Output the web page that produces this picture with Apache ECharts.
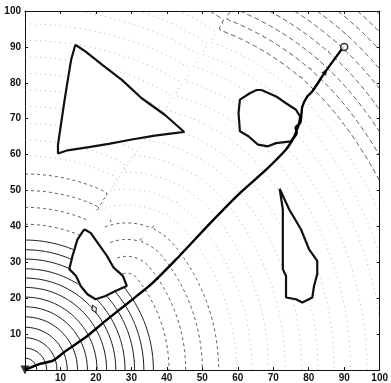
<!DOCTYPE html>
<html>
<head>
<meta charset="utf-8">
<script src="https://cdn.jsdelivr.net/npm/echarts@6/dist/echarts.min.js"></script>
<style>
  html, body { margin: 0; padding: 0; background: #fff; }
  #main { width: 391px; height: 383px; }
</style>
</head>
<body>
<div id="main"></div>
<script>
// contour levels (distance from the start point)
const levels = [3.3, 6.1, 9, 11.9, 14.8, 17.6, 20.3, 23, 25.6, 28.2, 30.9, 33.5, 36.2,
  40.6, 45.3, 50, 54.6, 59.6, 64, 68.7, 73.4, 78, 82.6, 87.2, 91.8, 96.4, 101, 105,
  109, 113, 116.5, 120, 123.5, 127, 130.5, 134, 137.5, 141];

// obstacle outlines
const obsTriangle = [[14.2, 90.6], [17.1, 88.7], [21.8, 85], [27.3, 80.8], [32.9, 75.7],
  [39.4, 71.1], [44.9, 66.3], [42.1, 66], [36.6, 65.3], [30.1, 64.2], [23.6, 63],
  [18, 62.1], [12, 61.2], [9.3, 60.3], [9.3, 62.8], [10.2, 68.8], [11.1, 74.8],
  [12, 80.4], [13, 86.4]];
const obsBlob = [[66.7, 78], [70.8, 76.2], [73.6, 74.3], [76.4, 72.5], [77.6, 70.6],
  [77.1, 67.9], [75.9, 65.1], [75, 63.7], [70.8, 63.2], [68.5, 62.3], [65.7, 62.8],
  [63, 65.1], [60.6, 66.5], [60.2, 71.6], [60.6, 75.3], [63.4, 77.1], [65.3, 78]];
const obsLower = [[16.7, 39.2], [18.5, 38.2], [20.8, 35], [23.1, 31.8], [25, 28.5],
  [27.6, 26.2], [28.7, 23.4], [25.5, 22], [22.7, 20.6], [19.9, 19.7], [17.6, 21.1],
  [15.7, 23.4], [14.4, 26.2], [12.5, 28.1], [13.4, 31.8], [14.8, 36.4]];
const obsSpike = [[71.8, 50.5], [74.5, 44.7], [77.8, 39.2], [80.1, 33.6], [82.4, 30.4],
  [82.4, 26.7], [81.5, 23.4], [81, 20.2], [78.2, 18.8], [76.4, 19.7], [73.6, 20.2],
  [73.6, 26.2], [72.7, 28.1], [72.7, 44.7]];

// planned path from start (0,0) to goal (90,90)
const pathPoints = [[0, 0], [4.2, 1.7], [7.9, 2.6], [11.6, 5.4], [17.1, 9.1], [22.7, 13.7],
  [29.2, 18.8], [35.6, 23.9], [42.6, 30.8], [52.3, 41], [60.6, 49.3], [68, 55.8],
  [73.6, 61.4], [75.5, 64.2], [76.6, 66], [76.3, 67.6], [77.6, 68.8], [77.9, 70.8],
  [78.2, 73.4], [79.6, 76.2], [81, 77.6], [84.7, 83.1], [89.8, 90]];
const startPoint = [[0, 0]];
const goalPoint = [[90, 90]];
const arrowPoint = [[84.7, 83.1]];
const markPoint = [[19.5, 17]];

const obstacles = [obsTriangle, obsBlob, obsLower, obsSpike];
// only the obstacle near the start bends the wavefront visibly
const shadowing = [obsLower];

// ---- distance field ----
const edges = [];
shadowing.forEach(p => p.forEach((a, i) => edges.push([a, p[(i + 1) % p.length]])));

function cross(o, a, b) { return (a[0] - o[0]) * (b[1] - o[1]) - (a[1] - o[1]) * (b[0] - o[0]); }
function segHit(p, q, a, b) {
  const d1 = cross(p, q, a), d2 = cross(p, q, b), d3 = cross(a, b, p), d4 = cross(a, b, q);
  return ((d1 > 0 && d2 < 0) || (d1 < 0 && d2 > 0)) && ((d3 > 0 && d4 < 0) || (d3 < 0 && d4 > 0));
}
function inside(pt, poly) {
  let c = false;
  for (let i = 0, j = poly.length - 1; i < poly.length; j = i++) {
    const a = poly[i], b = poly[j];
    if ((a[1] > pt[1]) !== (b[1] > pt[1]) &&
        pt[0] < (b[0] - a[0]) * (pt[1] - a[1]) / (b[1] - a[1]) + a[0]) c = !c;
  }
  return c;
}
function visible(p, q) {
  for (const e of edges) if (segHit(p, q, e[0], e[1])) return false;
  const m = [(p[0] + q[0]) / 2, (p[1] + q[1]) / 2];
  for (const poly of shadowing) if (inside(m, poly)) return false;
  return true;
}
const dist = (a, b) => Math.hypot(a[0] - b[0], a[1] - b[1]);

const nodes = [startPoint[0]].concat(...shadowing);
const nd = nodes.map((_, i) => i === 0 ? 0 : Infinity);
const done = nodes.map(() => false);
for (let k = 0; k < nodes.length; k++) {
  let u = -1;
  nd.forEach((d, i) => { if (!done[i] && (u < 0 || d < nd[u])) u = i; });
  if (u < 0 || nd[u] === Infinity) break;
  done[u] = true;
  nodes.forEach((n, v) => {
    if (!done[v] && visible(nodes[u], n)) nd[v] = Math.min(nd[v], nd[u] + dist(nodes[u], n));
  });
}

const step = 0.5, N = Math.round(100 / step) + 1;
const field = [];
for (let i = 0; i < N; i++) {
  field.push([]);
  for (let j = 0; j < N; j++) {
    const p = [i * step, j * step];
    let v = NaN;
    if (!obstacles.some(poly => inside(p, poly))) {
      if (visible(nodes[0], p)) v = dist(nodes[0], p);
      else {
        v = Infinity;
        for (let k = 1; k < nodes.length; k++) {
          const c = nd[k] + dist(nodes[k], p);
          if (c < v && visible(nodes[k], p)) v = c;
        }
      }
    }
    field[i].push(v);
  }
}

// marching squares -> polylines
function contour(L) {
  const pts = new Map(), adj = new Map();
  const addPt = (key, x, y) => { if (!pts.has(key)) { pts.set(key, [x, y]); adj.set(key, []); } return key; };
  const edgeKey = (i0, j0, i1, j1) => {
    const a = field[i0][j0], b = field[i1][j1], t = (L - a) / (b - a);
    return addPt(i0 + ',' + j0 + ',' + i1 + ',' + j1,
      (i0 + (i1 - i0) * t) * step, (j0 + (j1 - j0) * t) * step);
  };
  for (let i = 0; i < N - 1; i++) {
    for (let j = 0; j < N - 1; j++) {
      const v0 = field[i][j], v1 = field[i + 1][j], v2 = field[i + 1][j + 1], v3 = field[i][j + 1];
      if ([v0, v1, v2, v3].some(v => !isFinite(v))) continue;
      const s0 = v0 < L, s1 = v1 < L, s2 = v2 < L, s3 = v3 < L;
      const e = [];
      if (s0 !== s1) e.push(edgeKey(i, j, i + 1, j));
      if (s1 !== s2) e.push(edgeKey(i + 1, j, i + 1, j + 1));
      if (s3 !== s2) e.push(edgeKey(i, j + 1, i + 1, j + 1));
      if (s0 !== s3) e.push(edgeKey(i, j, i, j + 1));
      let segs = [];
      if (e.length === 2) segs = [[e[0], e[1]]];
      else if (e.length === 4) {
        const sc = (v0 + v1 + v2 + v3) / 4 < L;
        segs = sc === s0 ? [[e[0], e[1]], [e[2], e[3]]] : [[e[0], e[3]], [e[1], e[2]]];
      }
      segs.forEach(([a, b]) => { adj.get(a).push(b); adj.get(b).push(a); });
    }
  }
  const walk = k => {
    const line = [pts.get(k)];
    let cur = k;
    for (;;) {
      const nb = adj.get(cur);
      if (!nb.length) break;
      const nx = nb.pop();
      const back = adj.get(nx);
      back.splice(back.indexOf(cur), 1);
      line.push(pts.get(nx));
      cur = nx;
    }
    return line;
  };
  const out = [];
  for (const [k, nb] of adj) if (nb.length === 1) out.push(walk(k));
  for (const [k, nb] of adj) if (nb.length > 0) out.push(walk(k));
  return out.filter(l => l.length > 1);
}

const groups = { solid: [], dash: [], dot: [], far: [] };
levels.forEach(L => {
  const g = L < 37 ? 'solid' : L < 58 ? 'dash' : L < 112 ? 'dot' : 'far';
  contour(L).forEach(c => groups[g].push({ coords: c }));
});

function contourSeries(data, color, width, type, opacity) {
  return {
    type: 'lines', coordinateSystem: 'cartesian2d', polyline: true, silent: true,
    data: data, z: 1,
    lineStyle: { color: color, width: width, type: type, opacity: opacity }
  };
}

function outline(poly) {
  return {
    type: 'line', data: poly.concat([poly[0]]), symbol: 'none', z: 3, silent: true,
    lineStyle: { color: '#111', width: 2.2 }
  };
}

const chart = echarts.init(document.getElementById('main'));
const labelStyle = {
  fontFamily: 'Liberation Sans', fontSize: 10, fontWeight: 'bold', color: '#111',
  formatter: v => (v === 0 ? '' : v)
};
const axisBase = {
  type: 'value', min: 0, max: 100, interval: 10,
  axisLine: { show: true, onZero: false, lineStyle: { color: '#111', width: 1 } },
  axisTick: { inside: true, length: 3, lineStyle: { color: '#111' } },
  splitLine: { show: false }
};

chart.setOption({
  animation: false,
  grid: { left: 25, right: 6, top: 11, bottom: 12 },
  xAxis: [
    Object.assign({}, axisBase, { position: 'bottom', axisLabel: Object.assign({ margin: 3 }, labelStyle) }),
    Object.assign({}, axisBase, { position: 'top', axisLabel: { show: false } })
  ],
  yAxis: [
    Object.assign({}, axisBase, { position: 'left', axisLabel: Object.assign({ margin: 4 }, labelStyle) }),
    Object.assign({}, axisBase, { position: 'right', axisLabel: { show: false } })
  ],
  series: [
    contourSeries(groups.solid, '#111', 1, 'solid', 1),
    contourSeries(groups.dash, '#333', 0.9, [3, 3], 0.9),
    contourSeries(groups.dot, '#777', 0.8, [1, 4], 0.7),
    contourSeries(groups.far, '#333', 0.9, [5, 3], 0.9),
    outline(obsTriangle), outline(obsBlob), outline(obsLower), outline(obsSpike),
    {
      type: 'line', data: pathPoints, symbol: 'none', smooth: 0.2, z: 4,
      lineStyle: { color: '#000', width: 2.4 }
    },
    {
      type: 'scatter', data: startPoint, symbol: 'triangle', symbolRotate: 180,
      symbolSize: 9, z: 5, itemStyle: { color: '#000' }
    },
    {
      type: 'scatter', data: goalPoint, symbol: 'circle', symbolSize: 7, z: 5,
      itemStyle: { color: '#fff', borderColor: '#000', borderWidth: 1.5 }
    },
    {
      type: 'scatter', data: arrowPoint, symbol: 'triangle', symbolRotate: -35,
      symbolSize: 6, z: 5, itemStyle: { color: '#000' }
    },
    {
      type: 'scatter', data: markPoint, symbol: 'diamond', symbolRotate: 25,
      symbolSize: [5, 8], z: 5,
      itemStyle: { color: '#fff', borderColor: '#000', borderWidth: 1.2 }
    }
  ]
});
</script>
</body>
</html>
